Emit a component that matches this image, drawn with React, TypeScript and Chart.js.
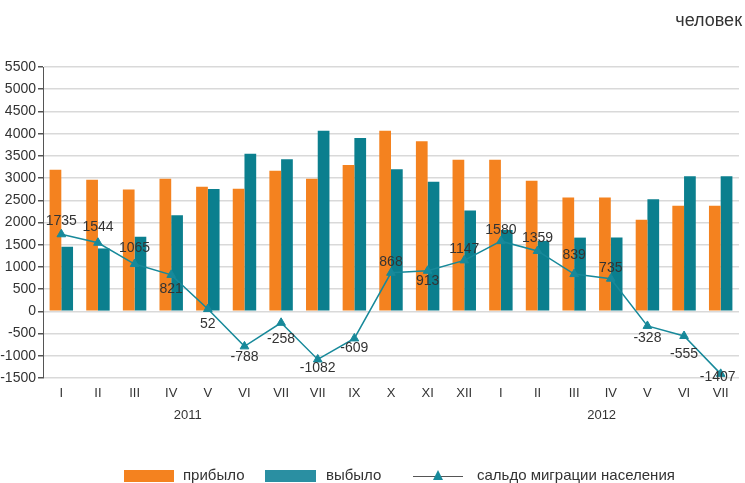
import React, { useEffect, useRef } from 'react';
import { Chart, registerables } from 'chart.js';

Chart.register(...registerables);

// ---- data ----
const categories = ['I', 'II', 'III', 'IV', 'V', 'VI', 'VII', 'VII', 'IX', 'X', 'XI', 'XII', 'I', 'II', 'III', 'IV', 'V', 'VI', 'VII'];
const arrived = [3190, 2960, 2745, 2985, 2805, 2760, 3166, 2985, 3295, 4065, 3830, 3415, 3410, 2940, 2560, 2560, 2060, 2376, 2376];
const departed = [1455, 1416, 1680, 2164, 2753, 3548, 3424, 4067, 3904, 3197, 2917, 2268, 1830, 1581, 1660, 1660, 2526, 3043, 3043];
const balance = [1735, 1544, 1065, 821, 52, -788, -258, -1082, -609, 868, 913, 1147, 1580, 1359, 839, 735, -328, -555, -1407];
const yearLabels = ['2011', '2012'];
const seriesNames = ['прибыло', 'выбыло', 'сальдо миграции населения'];
const unitLabel = 'человек';
const yMin = -1500;
const yMax = 5500;
const yStep = 500;

// ---- style ----
const ORANGE = '#F4821F';
const TEAL = '#0B7F8E';
const TEAL_LEGEND = '#2A8FA2';
const LINE = '#17899A';
const TEXT = '#333333';
const FONT = "'Liberation Sans', Arial, sans-serif";
// vertical offset (px) of each value label from its point
const labelOffsets = [-13, -16, -16, 14, 15, 11, 16, 9, 10, -11, 10, -11, -11, -13, -19, -11, 12, 18, 3];
// category-index position of year captions
const yearPositions = [3.45, 14.75];

const overlayPlugin = {
  id: 'overlay',
  afterDatasetsDraw(chart: any) {
    const ctx = chart.ctx;
    const meta = chart.getDatasetMeta(0);
    ctx.save();
    ctx.fillStyle = TEXT;
    ctx.textAlign = 'center';
    ctx.textBaseline = 'middle';
    ctx.font = `14px ${FONT}`;
    meta.data.forEach((pt: any, i: number) => {
      let px = pt.x;
      if (i === meta.data.length - 1) px -= 3;
      ctx.fillText(String(balance[i]), px, pt.y + labelOffsets[i]);
    });
    ctx.restore();
  },
  afterDraw(chart: any) {
    const ctx = chart.ctx;
    const x = chart.scales.x;
    ctx.save();
    ctx.fillStyle = TEXT;
    ctx.textBaseline = 'middle';
    // unit label
    ctx.font = `18px ${FONT}`;
    ctx.textAlign = 'right';
    ctx.fillText(unitLabel, 742, 21);
    // years
    ctx.font = `13px ${FONT}`;
    ctx.textAlign = 'center';
    yearLabels.forEach((y, i) => {
      ctx.fillText(y, x.getPixelForValue(yearPositions[i]), 415);
    });
    // legend
    const ly = 476;
    ctx.font = `15px ${FONT}`;
    ctx.textAlign = 'left';
    ctx.fillStyle = ORANGE;
    ctx.fillRect(124, ly - 6, 50, 12);
    ctx.fillStyle = TEXT;
    ctx.fillText(seriesNames[0], 183, ly);
    ctx.fillStyle = TEAL_LEGEND;
    ctx.fillRect(265, ly - 6, 51, 12);
    ctx.fillStyle = TEXT;
    ctx.fillText(seriesNames[1], 326, ly);
    ctx.strokeStyle = '#555';
    ctx.lineWidth = 1;
    ctx.beginPath();
    ctx.moveTo(413, ly + 0.5);
    ctx.lineTo(463, ly + 0.5);
    ctx.stroke();
    ctx.fillStyle = LINE;
    ctx.beginPath();
    ctx.moveTo(438, ly - 6);
    ctx.lineTo(443, ly + 4);
    ctx.lineTo(433, ly + 4);
    ctx.closePath();
    ctx.fill();
    ctx.fillStyle = TEXT;
    ctx.fillText(seriesNames[2], 477, ly);
    ctx.restore();
  },
};

export default function App() {
  const ref = useRef<HTMLCanvasElement>(null);
  useEffect(() => {
    const chart = new Chart(ref.current as HTMLCanvasElement, {
      type: 'bar',
      data: {
        labels: categories,
        datasets: [
          {
            type: 'line',
            label: seriesNames[2],
            data: balance,
            borderColor: LINE,
            backgroundColor: LINE,
            borderWidth: 1.5,
            pointStyle: 'triangle',
            pointRadius: 5,
            pointHoverRadius: 5,
            pointBackgroundColor: LINE,
            pointBorderColor: LINE,
            pointBorderWidth: 1,
            tension: 0,
            order: 0,
          } as any,
          {
            label: seriesNames[0],
            data: arrived,
            backgroundColor: ORANGE,
            categoryPercentage: 0.64,
            barPercentage: 1,
            order: 1,
          },
          {
            label: seriesNames[1],
            data: departed,
            backgroundColor: TEAL,
            categoryPercentage: 0.64,
            barPercentage: 1,
            order: 1,
          },
        ],
      },
      options: {
        animation: false,
        responsive: false,
        devicePixelRatio: 1,
        layout: { padding: { top: 67, right: 3, left: 0, bottom: 0 } },
        plugins: { legend: { display: false }, tooltip: { enabled: false } },
        scales: {
          x: {
            grid: { display: false, drawTicks: false },
            border: { display: false },
            ticks: { color: TEXT, font: { size: 13, family: FONT }, padding: 8, maxRotation: 0, autoSkip: false },
            afterFit: (s: any) => { s.height = 105; },
          },
          y: {
            min: yMin,
            max: yMax,
            ticks: {
              stepSize: yStep,
              color: TEXT,
              font: { size: 14, family: FONT },
              padding: 2,
              callback: (v: any) => String(v),
            },
            grid: { color: '#d9d9d9', lineWidth: 1.5, tickLength: 5, tickColor: '#555' },
            border: { color: '#555', width: 1 },
            afterFit: (s: any) => { s.width = 43; },
          },
        },
      },
      plugins: [overlayPlugin],
    });
    return () => chart.destroy();
  }, []);
  return (
    <div style={{ position: 'fixed', left: 0, top: 0, width: 745, height: 483, background: '#fff' }}>
      <canvas ref={ref} width={745} height={483} style={{ display: 'block' }} />
    </div>
  );
}
